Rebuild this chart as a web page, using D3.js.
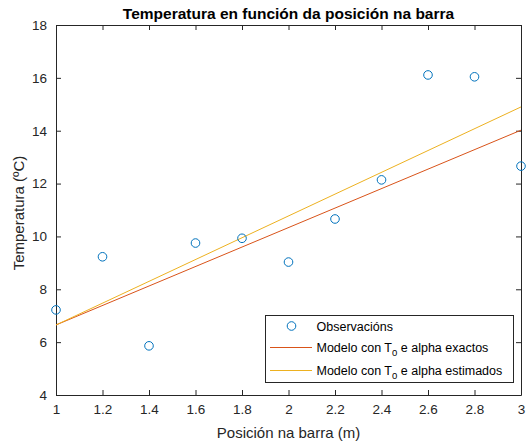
<!DOCTYPE html>
<html>
<head>
<meta charset="utf-8">
<script src="https://cdn.jsdelivr.net/npm/d3@7"></script>
<style>
  body { margin: 0; background: #fff; }
  svg { font-family: "Liberation Sans", Arial, sans-serif; }
</style>
</head>
<body>
<div id="chart"></div>
<script>
// chart data
const posX = [1, 1.2, 1.4, 1.6, 1.8, 2, 2.2, 2.4, 2.6, 2.8, 3];
const observed = [7.22, 9.23, 5.86, 9.75, 9.93, 9.03, 10.66, 12.14, 16.11, 16.04, 12.66];
const modelX = [1, 3];
const modelExact = [6.65, 14.02];
const modelEstimated = [6.65, 14.9];
const xTicks = [1, 1.2, 1.4, 1.6, 1.8, 2, 2.2, 2.4, 2.6, 2.8, 3];
const yTicks = [4, 6, 8, 10, 12, 14, 16, 18];

const width = 527;
const height = 443;
const margin = {left: 56, right: 6, top: 25, bottom: 48};

const blue = "#0072BD", red = "#D95319", yellow = "#EDB120", axisCol = "#262626";

const svg = d3.select("#chart").append("svg")
  .attr("width", width)
  .attr("height", height);

const x = d3.scaleLinear().domain([1, 3]).range([margin.left, width - margin.right]);
const y = d3.scaleLinear().domain([4, 18]).range([height - margin.bottom, margin.top]);

// axes (box with ticks on all sides, inward)
const tick = 5;
svg.append("g")
  .attr("transform", `translate(0,${y(4)})`)
  .call(d3.axisBottom(x).tickValues(xTicks).tickSizeInner(-tick).tickSizeOuter(0).tickPadding(9).tickFormat(d3.format("")))
  .call(g => g.selectAll("text").attr("font-size", 13.5).attr("fill", axisCol));
svg.append("g")
  .attr("transform", `translate(0,${y(18)})`)
  .call(d3.axisTop(x).tickValues(xTicks).tickSizeInner(-tick).tickSizeOuter(0).tickFormat(""));
svg.append("g")
  .attr("transform", `translate(${x(1)},0)`)
  .call(d3.axisLeft(y).tickValues(yTicks).tickSizeInner(-tick).tickSizeOuter(0).tickPadding(9))
  .call(g => g.selectAll("text").attr("font-size", 13.5).attr("fill", axisCol));
svg.append("g")
  .attr("transform", `translate(${x(3)},0)`)
  .call(d3.axisRight(y).tickValues(yTicks).tickSizeInner(-tick).tickSizeOuter(0).tickFormat(""));
svg.selectAll(".domain, .tick line").attr("stroke", axisCol).attr("stroke-width", 1);

// model lines
const line = d3.line().x(d => x(d[0])).y(d => y(d[1]));
svg.append("path")
  .datum(d3.zip(modelX, modelExact))
  .attr("d", line).attr("fill", "none").attr("stroke", red).attr("stroke-width", 1);
svg.append("path")
  .datum(d3.zip(modelX, modelEstimated))
  .attr("d", line).attr("fill", "none").attr("stroke", yellow).attr("stroke-width", 1);

// observations
svg.selectAll(".obs")
  .data(d3.zip(posX, observed))
  .enter().append("circle")
  .attr("class", "obs")
  .attr("cx", d => x(d[0]))
  .attr("cy", d => y(d[1]))
  .attr("r", 4.3)
  .attr("fill", "none")
  .attr("stroke", blue)
  .attr("stroke-width", 1);

// title and labels
svg.append("text")
  .attr("x", (x(1) + x(3)) / 2).attr("y", 18.5)
  .attr("text-anchor", "middle").attr("font-size", 15.5).attr("font-weight", "bold")
  .attr("fill", "#000")
  .text("Temperatura en función da posición na barra");
svg.append("text")
  .attr("x", (x(1) + x(3)) / 2).attr("y", 438)
  .attr("text-anchor", "middle").attr("font-size", 15).attr("fill", axisCol)
  .text("Posición na barra (m)");
svg.append("text")
  .attr("transform", `translate(24,${(y(4) + y(18)) / 2 + 3}) rotate(-90)`)
  .attr("text-anchor", "middle").attr("font-size", 15).attr("fill", axisCol)
  .text("Temperatura (ºC)");

// legend
const lg = svg.append("g");
lg.append("rect")
  .attr("x", 265.5).attr("y", 315.5).attr("width", 248).attr("height", 67)
  .attr("fill", "#fff").attr("stroke", axisCol).attr("stroke-width", 1);
const entries = [
  {label: "Observacións", type: "marker", color: blue, yy: 326},
  {label: ["Modelo con T", "0", " e alpha exactos"], type: "line", color: red, yy: 347.5},
  {label: ["Modelo con T", "0", " e alpha estimados"], type: "line", color: yellow, yy: 370.5}
];
entries.forEach(e => {
  if (e.type === "marker") {
    lg.append("circle").attr("cx", 291.5).attr("cy", e.yy).attr("r", 4.3)
      .attr("fill", "none").attr("stroke", e.color);
  } else {
    lg.append("line").attr("x1", 270).attr("x2", 312).attr("y1", e.yy).attr("y2", e.yy)
      .attr("stroke", e.color).attr("stroke-width", 1);
  }
  const t = lg.append("text").attr("x", 316.5).attr("y", e.yy + 4.5)
    .attr("font-size", 12.5).attr("fill", "#000");
  if (typeof e.label === "string") {
    t.text(e.label);
  } else {
    t.append("tspan").text(e.label[0]);
    t.append("tspan").attr("dy", 4).attr("font-size", 9.5).text(e.label[1]);
    t.append("tspan").attr("dy", -4).text(e.label[2]);
  }
});
</script>
</body>
</html>
